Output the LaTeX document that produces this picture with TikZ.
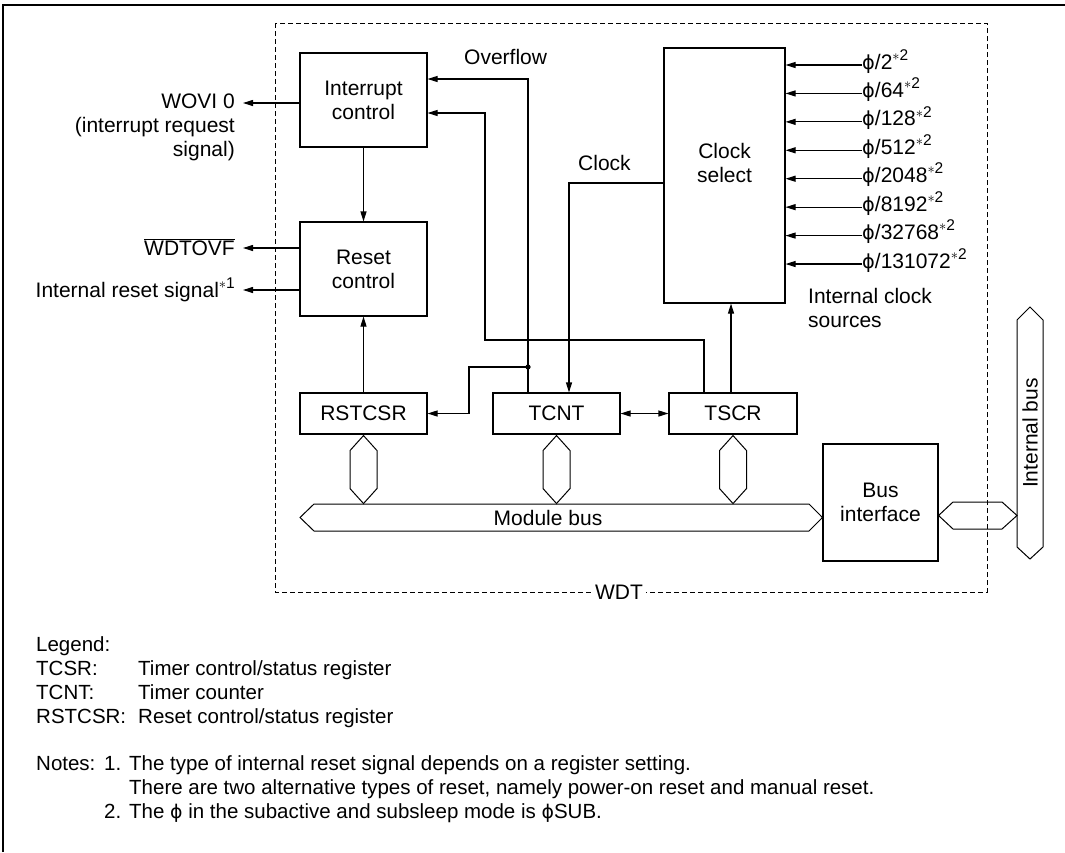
\documentclass[tikz,border=0pt]{standalone}
\usepackage{fontspec}
\setmainfont{Liberation Sans}
\newfontfamily\phifont[Scale=0.92]{DejaVu Sans}
\usetikzlibrary{arrows.meta}
\newcommand\phis{{\phifont\symbol{"03D5}}}
\newcommand\sstar[1]{\raisebox{0.42em}{\fontsize{15.5}{15.5}\selectfont$\ast$#1}}
\newcommand\dsize{\fontsize{21}{24}\selectfont}
\newcommand\lsize{\fontsize{20.5}{24}\selectfont}
\begin{document}
\begin{tikzpicture}[x=1pt,y=-1pt,
  blk/.style={draw, line width=1.1pt, inner sep=0pt, align=center, font=\dsize},
  lbl/.style={inner sep=0pt, font=\dsize},
  lgd/.style={inner sep=0pt, anchor=base west, font=\lsize},
  arr/.style={line width=1.1pt, -{Triangle[length=10pt,width=6pt]}},
  darr/.style={line width=1.1pt, {Triangle[length=10pt,width=6pt]}-{Triangle[length=10pt,width=6pt]}},
  bus/.style={draw, line width=1pt},
  wdtbox/.style={draw, line width=0.9pt, dash pattern=on 5pt off 3pt}
]
\useasboundingbox (0,0) rectangle (1065,852);
% outer frame (top and left)
\draw[line width=2.5pt] (3,852) -- (3,5) -- (1065,5);

% blocks
\node[blk, minimum width=127pt, minimum height=94pt] (ic) at (363.5,100) {Interrupt\\control};
\node[blk, minimum width=127pt, minimum height=94pt] (rc) at (363.5,269) {Reset\\control};
\node[blk, minimum width=121pt, minimum height=255pt] (cs) at (724.5,175.5) {};
\node[lbl, align=center] (cst) at (724.5,163) {Clock\\select};
\node[blk, minimum width=127pt, minimum height=41pt] (rst) at (363.5,413.5) {RSTCSR};
\node[blk, minimum width=127pt, minimum height=41pt] (tcnt) at (556.5,413.5) {TCNT};
\node[blk, minimum width=128pt, minimum height=41pt] (tscr) at (733,413.5) {TSCR};
\node[blk, minimum width=115pt, minimum height=117pt] (bi) at (880.5,502.5) {Bus\\interface};

% outputs on the left
\coordinate (wo) at (243,103);
\coordinate (wd) at (243,248);
\coordinate (ir) at (243,290);
\draw[arr] (ic.west |- wo) -- (wo);
\draw[arr] (rc.west |- wd) -- (wd);
\draw[arr] (rc.west |- ir) -- (ir);
\node[lbl, anchor=base east] (wovi) at (235,108) {WOVI 0};
\node[lbl, anchor=base east] (wovi2) at (235,132) {(interrupt request};
\node[lbl, anchor=base east] (wovi3) at (235,156) {signal)};
\node[lbl, anchor=base east] (wdtovf) at (235,255.5) {$\overline{\mbox{WDTOVF}}$};
\node[lbl, anchor=base east] (irs) at (235,297.5) {Internal reset signal\sstar{1}};

% internal connections
\draw[arr] (ic.south) -- (rc.north);
\draw[arr] (rst.north) -- (rc.south);
\coordinate (j) at (528,367);
\draw[arr] (tcnt.north -| j) |- (ic.east |- 0,79);
\fill (j) circle (2.6pt);
\draw[arr] (j) -| (469,0 |- rst.east) -- (rst.east);
\draw[arr] (tscr.north -| 704,0) |- (485,340) |- (ic.east |- 0,113);
\draw[arr] (cs.west |- 0,183) -| (569,0 |- tcnt.north);
\draw[arr] (tscr.north -| 731,0) -- (cs.south -| 731,0);
\draw[darr] (tcnt.east) -- (tscr.west);
\node[lbl, anchor=west] (ovf) at (464,57) {Overflow};
\node[lbl, anchor=west] (clk) at (578,163) {Clock};

% clock inputs
\foreach \i/\t in {0/2,1/64,2/128,3/512,4/2048,5/8192,6/32768,7/131072} {
  \coordinate (c\i) at (862,{65+28.43*\i});
  \node[lbl, anchor=base west] (in\i) at (862,{69+28.43*\i}) {\phis/\t\sstar{2}};
  \draw[arr] (c\i) -- (c\i -| cs.east);
}
\node[lbl, anchor=west, align=left] (ics) at (808,308) {Internal clock\\sources};

% buses
\foreach \n in {rst,tcnt,tscr} {
  \draw[bus] (\n.south) ++(0,1) -- ++(13.5,15) -- ++(0,38) -- ++(-13.5,15) -- ++(-13.5,-15) -- ++(0,-38) -- cycle;
}
\draw[bus] (300,517.5) -- (314,504) -- (809,504) -- (bi.west |- 0,517.5) -- (809,531) -- (314,531) -- cycle;
\node[lbl] (mb) at (548,517.5) {Module bus};
\draw[bus] (bi.east |- 0,515.5) -- (953,502) -- (1002,502) -- (1017,515.5) -- (1002,529) -- (953,529) -- cycle;
\draw[bus] (1017,320) -- (1030,307) -- (1043,320) -- (1043,547) -- (1030,559) -- (1017,547) -- cycle;
\node[lbl, rotate=90] (ib) at (1030,433) {Internal bus};

% WDT module boundary
\draw[wdtbox] (275,23) rectangle (987,592);
\node[fill=white, inner sep=3pt, font=\dsize] (wdt) at (619,592) {WDT};

% legend
\node[lgd] (lg) at (36,651) {Legend:};
\node[lgd] (l1a) at (36,675) {TCSR:};
\node[lgd] (l1b) at (138,675) {Timer control/status register};
\node[lgd] (l2a) at (36,699) {TCNT:};
\node[lgd] (l2b) at (138,699) {Timer counter};
\node[lgd] (l3a) at (36,723) {RSTCSR:};
\node[lgd] (l3b) at (138,723) {Reset control/status register};
\node[lgd] (n0) at (36,770) {Notes:};
\node[lgd] (n1) at (104,770) {1.};
\node[lgd] (n1a) at (129,770) {The type of internal reset signal depends on a register setting.};
\node[lgd] (n1b) at (129,794) {There are two alternative types of reset, namely power-on reset and manual reset.};
\node[lgd] (n2) at (104,818) {2.};
\node[lgd] (n2a) at (129,818) {The \phis{} in the subactive and subsleep mode is \phis SUB.};
\end{tikzpicture}
\end{document}
